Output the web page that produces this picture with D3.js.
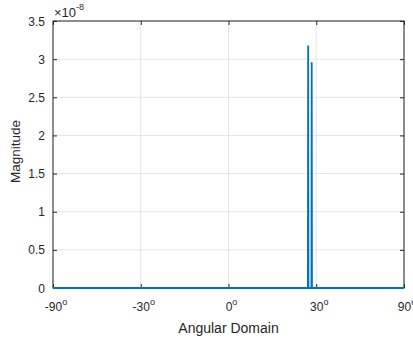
<!DOCTYPE html>
<html>
<head>
<meta charset="utf-8">
<script src="https://cdn.jsdelivr.net/npm/d3@7"></script>
<style>
  html, body { margin: 0; padding: 0; background: #fff; }
  svg { display: block; font-family: "Liberation Sans", Arial, Helvetica, sans-serif; }
</style>
</head>
<body>
<svg id="chart" width="413" height="345"></svg>
<script>
// Spatial spectrum: angle (degrees) and magnitude (×1e-8)
const angles = [-90, 26.9, 27.0, 27.1, 28.2, 28.3, 28.4, 90];
const magnitude = [0, 0, 3.18, 0, 0, 2.96, 0, 0];
const xTickDeg = [-90, -30, 0, 30, 90];
const yTicks = [0, 0.5, 1, 1.5, 2, 2.5, 3, 3.5];
const exponentLabel = "-8";

const margin = { left: 53, right: 9, top: 21, bottom: 57 };
const W = 413, H = 345;
const ink = "#262626";
const svg = d3.select("#chart");

// Angle axis is laid out in sine space (uniform in sin θ)
const toU = d => Math.sin(d * Math.PI / 180);
const x = d3.scaleLinear().domain([-1, 1]).range([margin.left, W - margin.right]);
const y = d3.scaleLinear().domain([0, 3.5]).range([H - margin.bottom, margin.top]);

const x0 = x.range()[0], x1 = x.range()[1], y0 = y.range()[0], y1 = y.range()[1];

// grid
const g = svg.append("g");
g.selectAll(".vg").data(xTickDeg).join("line")
  .attr("x1", d => x(toU(d))).attr("x2", d => x(toU(d)))
  .attr("y1", y0).attr("y2", y1)
  .attr("stroke", "#e5e5e5").attr("stroke-width", 1);
g.selectAll(".hg").data(yTicks).join("line")
  .attr("x1", x0).attr("x2", x1)
  .attr("y1", d => y(d)).attr("y2", d => y(d))
  .attr("stroke", "#e5e5e5").attr("stroke-width", 1);

// box
svg.append("rect").attr("x", x0).attr("y", y1).attr("width", x1 - x0).attr("height", y0 - y1)
  .attr("fill", "none").attr("stroke", ink).attr("stroke-width", 1);

// inward tick marks on all four sides
const tickStyle = s => { s.select(".domain").remove(); s.selectAll("line").attr("stroke", ink); };
const xt = xTickDeg.map(toU);
svg.append("g").attr("transform", `translate(0,${y0})`)
  .call(d3.axisBottom(x).tickValues(xt).tickSize(-4).tickFormat(() => "")).call(tickStyle);
svg.append("g").attr("transform", `translate(0,${y1})`)
  .call(d3.axisTop(x).tickValues(xt).tickSize(-4).tickFormat(() => "")).call(tickStyle);
svg.append("g").attr("transform", `translate(${x0},0)`)
  .call(d3.axisLeft(y).tickValues(yTicks).tickSize(-4).tickFormat(() => "")).call(tickStyle);
svg.append("g").attr("transform", `translate(${x1},0)`)
  .call(d3.axisRight(y).tickValues(yTicks).tickSize(-4).tickFormat(() => "")).call(tickStyle);

// data line
const line = d3.line().x((d, i) => x(toU(angles[i]))).y(d => y(d));
svg.append("path").datum(magnitude)
  .attr("d", line)
  .attr("fill", "none").attr("stroke", "#0072BD").attr("stroke-width", 1.8);

// x tick labels with degree superscript
const xl = svg.append("g");
xTickDeg.forEach(d => {
  const t = xl.append("text")
    .attr("x", x(toU(d)) + 3).attr("y", y0 + 23)
    .attr("text-anchor", "middle").attr("font-size", 12).attr("fill", ink);
  t.append("tspan").text(d);
  t.append("tspan").attr("font-size", 9).attr("dy", -6).text("o");
});

// y tick labels
svg.append("g").selectAll("text").data(yTicks).join("text")
  .attr("x", x0 - 8).attr("y", d => y(d) + 4.5)
  .attr("text-anchor", "end").attr("font-size", 12).attr("fill", ink)
  .text(d => d);

// exponent
const ex = svg.append("text").attr("x", x0 + 1).attr("y", y1 - 4)
  .attr("font-size", 13).attr("fill", ink);
ex.append("tspan").text("×10");
ex.append("tspan").attr("font-size", 9).attr("dy", -7).text(exponentLabel);

// axis titles
svg.append("text").attr("x", (x0 + x1) / 2).attr("y", y0 + 45)
  .attr("text-anchor", "middle").attr("font-size", 14).attr("fill", ink)
  .text("Angular Domain");
svg.append("text").attr("transform", `translate(20,${(y0 + y1) / 2 - 3}) rotate(-90)`)
  .attr("text-anchor", "middle").attr("font-size", 13.5).attr("fill", ink)
  .text("Magnitude");
</script>
</body>
</html>
